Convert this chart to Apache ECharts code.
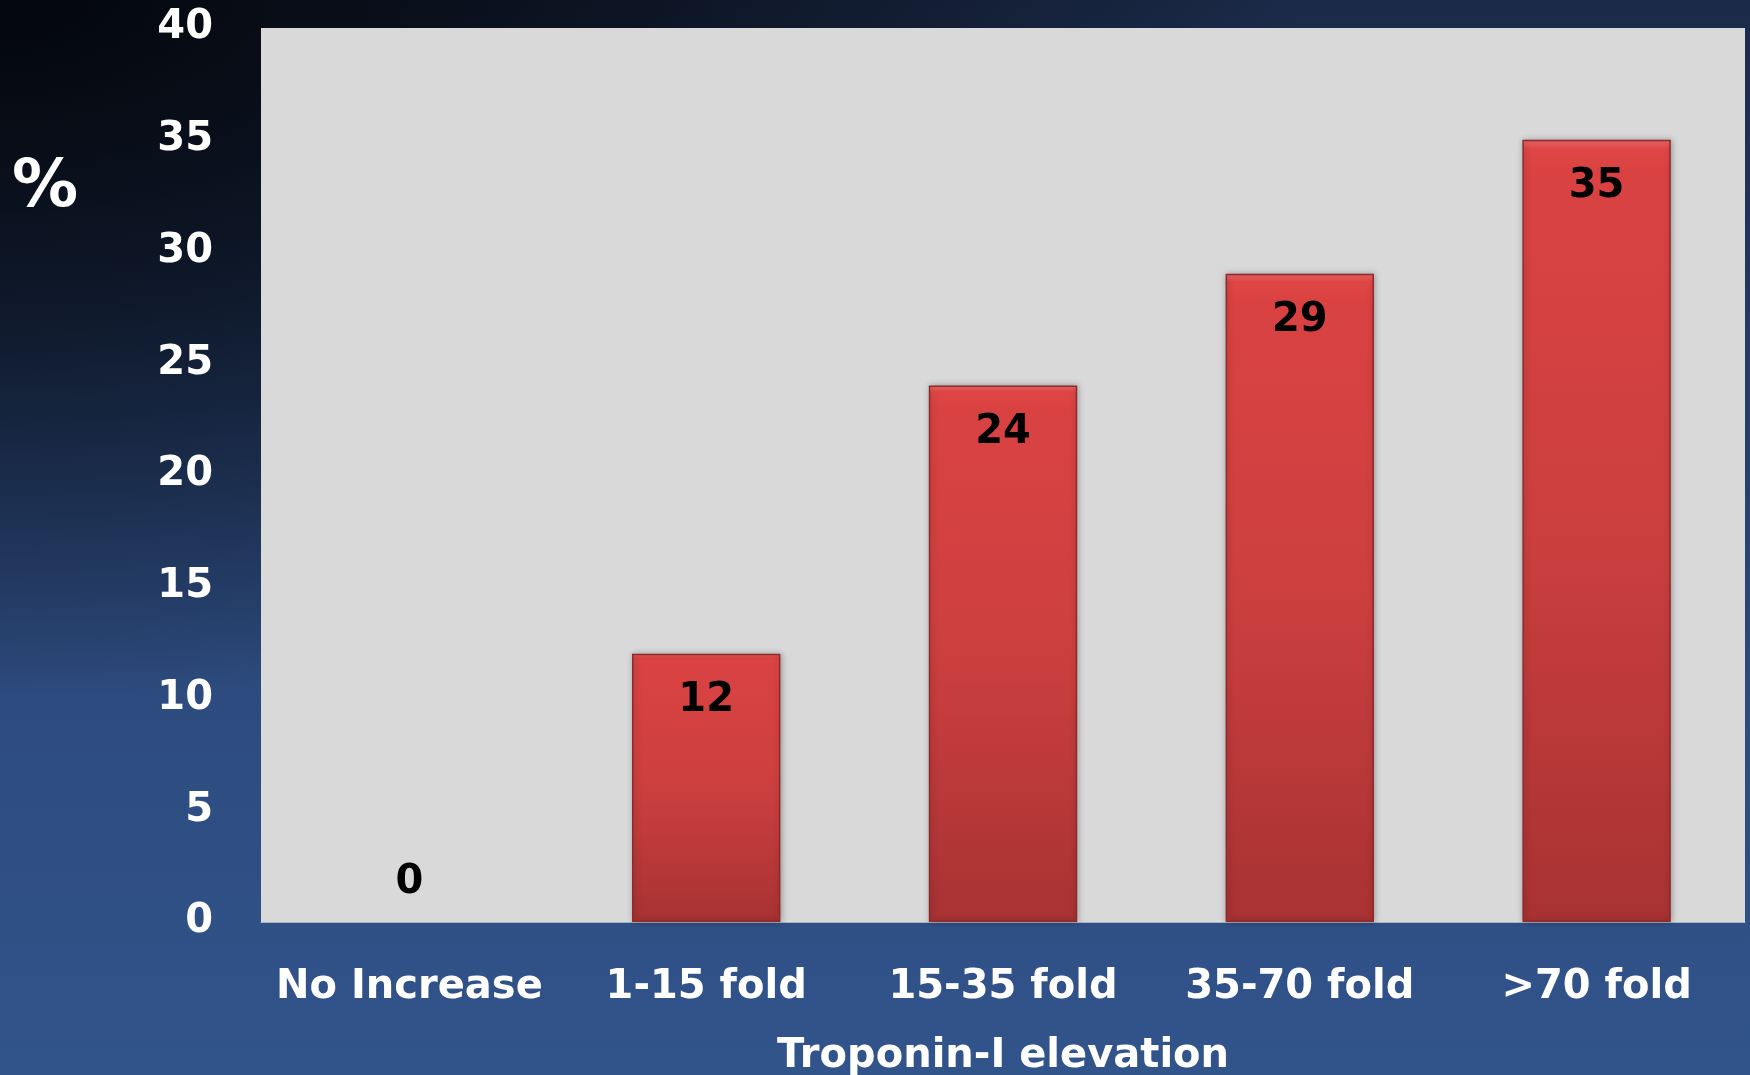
<!DOCTYPE html>
<html>
<head>
<meta charset="utf-8">
<script src="https://cdn.jsdelivr.net/npm/echarts@6/dist/echarts.min.js"></script>
<style>
html,body{margin:0;padding:0;width:1750px;height:1075px;overflow:hidden;}
body{
  background:
    radial-gradient(ellipse 75% 65% at 0% 0%, rgba(2,4,8,0.95) 0%, rgba(2,4,8,0.6) 45%, rgba(2,4,8,0) 100%),
    linear-gradient(180deg, #1b2a48 0%, #243c66 35%, #2d4b7e 65%, #31548b 100%);
}
#chart{width:1750px;height:1075px;}
</style>
</head>
<body>
<div id="chart"></div>
<script>
var categories = ['No Increase', '1-15 fold', '15-35 fold', '35-70 fold', '>70 fold'];
var values = [0, 12, 24, 29, 35];
var yTicks = {min: 0, max: 40, interval: 5};
var xAxisTitle = 'Troponin-I elevation';
var yAxisTitle = '%';

var chart = echarts.init(document.getElementById('chart'));
var font = '"DejaVu Sans", "Liberation Sans", Arial, sans-serif';

var seriesData = values.map(function (v) {
  return v === 0
    ? {value: v, itemStyle: {color: 'rgba(0,0,0,0)', borderWidth: 0, shadowBlur: 0}, label: {position: 'top', distance: 19}}
    : {value: v, label: {position: 'insideTop', distance: 27}};
});

chart.setOption({
  backgroundColor: 'transparent',
  animation: false,
  grid: {
    left: 261, right: 5, top: 28, bottom: 153,
    outerBoundsMode: 'none',
    containLabel: false,
    show: true, backgroundColor: '#d9d9d9', borderWidth: 0
  },
  graphic: [{
    type: 'text', left: 12, top: 156,
    style: {text: yAxisTitle, fill: '#ffffff', font: 'bold 66px ' + font}
  }],
  xAxis: {
    type: 'category',
    data: categories,
    name: xAxisTitle,
    nameLocation: 'middle',
    nameGap: 115,
    nameTextStyle: {color: '#ffffff', fontSize: 40, fontWeight: 'bold', fontFamily: font},
    axisLine: {show: true, lineStyle: {color: '#aab4c6', width: 1}},
    axisTick: {show: false},
    axisLabel: {color: '#ffffff', fontSize: 40, fontWeight: 'bold', fontFamily: font, margin: 46, interval: 0}
  },
  yAxis: {
    type: 'value',
    min: yTicks.min, max: yTicks.max, interval: yTicks.interval,
    splitLine: {show: false},
    axisLine: {show: false},
    axisTick: {show: false},
    axisLabel: {color: '#ffffff', fontSize: 40, fontWeight: 'bold', fontFamily: font, margin: 48, padding: [3, 0, 0, 0]}
  },
  series: [{
    type: 'bar',
    data: seriesData,
    barWidth: '50%',
    itemStyle: {
      color: new echarts.graphic.LinearGradient(0, 0, 0, 1, [
        {offset: 0, color: '#ef6a6a'},
        {offset: 0.012, color: '#e04646'},
        {offset: 0.04, color: '#da4242'},
        {offset: 0.5, color: '#cc3f3f'},
        {offset: 1, color: '#a83232'}
      ]),
      borderColor: '#8e2a2a',
      borderWidth: 1.5,
      shadowColor: 'rgba(0,0,0,0.3)',
      shadowBlur: 6,
      shadowOffsetX: 1
    },
    label: {
      show: true,
      color: '#000000',
      fontSize: 40,
      fontWeight: 'bold',
      fontFamily: font
    }
  }]
});
</script>
</body>
</html>
